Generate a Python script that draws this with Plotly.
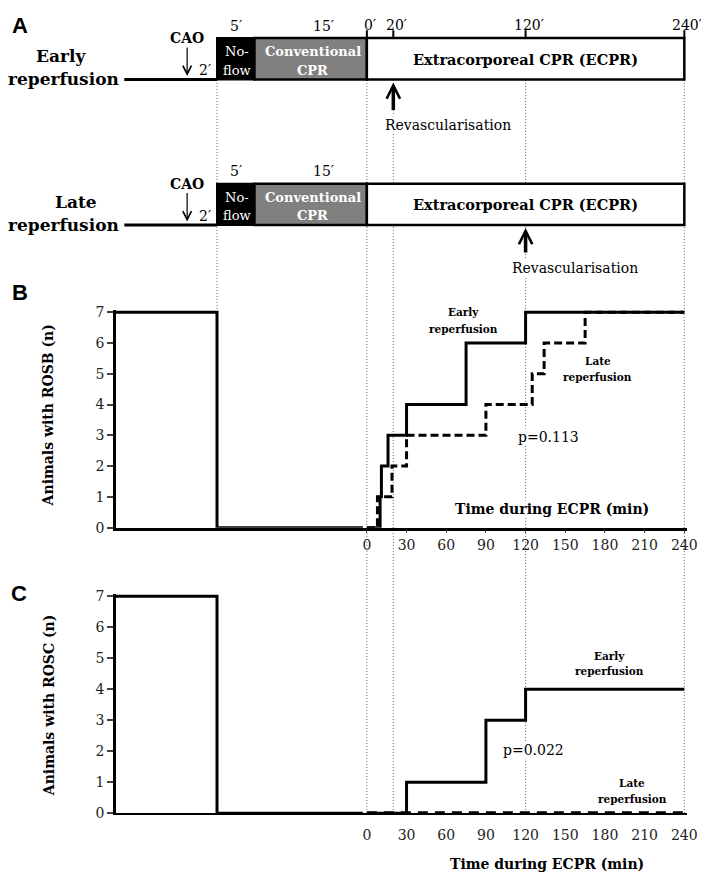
import plotly.graph_objects as go

W, H = 709, 875

# ---------------- data ----------------
ECPR_TICKS = [0, 30, 60, 90, 120, 150, 180, 210, 240]
Y_TICKS = [0, 1, 2, 3, 4, 5, 6, 7]

# pre-ECPR phase (minutes relative to start of ECPR)
PRE_TIME = [-34, -20, 0]          # baseline, start of no-flow, start of ECPR
PRE_COUNT = [7, 0, 0]             # animals (n)

# Panel B - animals with ROSB during ECPR
ROSB_EARLY_TIME = [0, 10, 11, 16, 30, 75, 120, 240]
ROSB_EARLY_N = [0, 1, 2, 3, 4, 6, 7, 7]
ROSB_LATE_TIME = [0, 8, 19, 30, 90, 125, 134, 165, 240]
ROSB_LATE_N = [0, 1, 2, 3, 4, 5, 6, 7, 7]

# Panel C - animals with ROSC during ECPR
ROSC_EARLY_TIME = [0, 30, 90, 120, 240]
ROSC_EARLY_N = [0, 1, 3, 4, 4]
ROSC_LATE_TIME = [0, 240]
ROSC_LATE_N = [0, 0]

P_VALUES = ["p=0.113", "p=0.022"]

# Panel A timeline (minutes)
NOFLOW = [-20, -15]
CONV_CPR = [-15, 0]
ECPR = [0, 240]
ECPR_MARKS = [0, 20, 120, 240]
ECPR_MARK_LABELS = ["0′", "20′", "120′", "240′"]
ROWS = ["Early", "Late"]
REVASC_TIME = [20, 120]

# ---------------- geometry (page pixels) ----------------
FONT = "DejaVu Serif"
AX_LEFT = 109.5
SPLIT = 360.0
RIGHT = 689.0
ECPR0 = 364.0
K_ECPR = 322 / 240
K_PRE = 7.6


def e_px(t):
    return ECPR0 + t * K_ECPR


def p_px(t):
    return ECPR0 + t * K_PRE


def fx(px):
    return px / W


def fy(py):
    return 1 - py / H


x_ecpr_range = [(SPLIT - ECPR0) / K_ECPR, (RIGHT - ECPR0) / K_ECPR]
x_pre_range = [(AX_LEFT - ECPR0) / K_PRE, (SPLIT - ECPR0) / K_PRE]
YTOP = 7.08
B_Y0, B_Y7 = 522.0, 303.0
C_Y0, C_Y7 = 812.3, 591.7
b_top = B_Y7 - (YTOP - 7) * (B_Y0 - B_Y7) / 7
c_top = C_Y7 - (YTOP - 7) * (C_Y0 - C_Y7) / 7


def step(x, y, xa, ya, dash="solid", width=3):
    return go.Scatter(x=x, y=y, xaxis=xa, yaxis=ya, mode="lines",
                      line=dict(color="black", width=width, dash=dash, shape="hv"),
                      hoverinfo="skip", showlegend=False)


fig = go.Figure()
# Panel B
fig.add_trace(step(PRE_TIME, PRE_COUNT, "x2", "y"))
fig.add_trace(step(ROSB_EARLY_TIME, ROSB_EARLY_N, "x", "y"))
fig.add_trace(step(ROSB_LATE_TIME, ROSB_LATE_N, "x", "y", dash="8px,4px"))
# Panel C
fig.add_trace(step(PRE_TIME, PRE_COUNT, "x4", "y2"))
fig.add_trace(step(ROSC_EARLY_TIME, ROSC_EARLY_N, "x3", "y2"))
fig.add_trace(step(ROSC_LATE_TIME, ROSC_LATE_N, "x3", "y2", dash="10px,7px", width=4))

tickfont = dict(family=FONT, size=14, color="#222")
common_x = dict(showgrid=False, zeroline=False, showline=True, linecolor="black",
                linewidth=2.5, fixedrange=True)
common_y = dict(showgrid=False, zeroline=False, showline=True, linecolor="black",
                linewidth=2.5, ticks="outside", ticklen=6, tickwidth=2,
                tickvals=Y_TICKS, tickfont=tickfont, range=[0, YTOP])

fig.update_layout(
    width=W, height=H, margin=dict(l=0, r=0, t=0, b=0),
    paper_bgcolor="white", plot_bgcolor="rgba(0,0,0,0)", showlegend=False,
    xaxis=dict(common_x, domain=[fx(SPLIT), fx(RIGHT)], range=x_ecpr_range, anchor="y",
               ticks="outside", ticklen=3, tickwidth=1, tickvals=ECPR_TICKS, tickfont=tickfont),
    xaxis2=dict(common_x, domain=[fx(AX_LEFT), fx(SPLIT)], range=x_pre_range, anchor="y",
                showticklabels=False, ticks=""),
    yaxis=dict(common_y, domain=[fy(B_Y0), fy(b_top)], anchor="x2"),
    xaxis3=dict(common_x, domain=[fx(SPLIT), fx(RIGHT)], range=x_ecpr_range, anchor="y2",
                ticks="", tickvals=ECPR_TICKS, tickfont=tickfont, ticklabelstandoff=8, linewidth=1.5),
    xaxis4=dict(common_x, domain=[fx(AX_LEFT), fx(SPLIT)], range=x_pre_range, anchor="y2",
                showticklabels=False, ticks="", linewidth=1.5),
    yaxis2=dict(common_y, domain=[fy(C_Y0), fy(c_top)], anchor="x4"),
)

shapes = []
DOT = dict(color="#666", width=1, dash="1px,2px")
# dotted guide lines
for t in ECPR_MARKS:
    shapes.append(dict(type="line", xref="paper", yref="paper", x0=fx(e_px(t)), x1=fx(e_px(t)),
                       y0=fy(67), y1=fy(C_Y0), layer="below", line=DOT))
shapes.append(dict(type="line", xref="paper", yref="paper", x0=fx(p_px(NOFLOW[0])), x1=fx(p_px(NOFLOW[0])),
                   y0=fy(67), y1=fy(B_Y7), layer="below", line=DOT))

ROW_TOPS = [24.5, 172.5]
BOX_H = 42
for top in ROW_TOPS:
    bot = top + BOX_H
    shapes.append(dict(type="line", xref="paper", yref="paper", x0=fx(118), x1=fx(p_px(NOFLOW[0])),
                       y0=fy(bot), y1=fy(bot), line=dict(color="black", width=3)))
    shapes.append(dict(type="rect", xref="paper", yref="paper",
                       x0=fx(p_px(NOFLOW[0])), x1=fx(p_px(NOFLOW[1])), y0=fy(bot), y1=fy(top),
                       fillcolor="black", line=dict(color="black", width=2)))
    shapes.append(dict(type="rect", xref="paper", yref="paper",
                       x0=fx(p_px(CONV_CPR[0])), x1=fx(p_px(CONV_CPR[1])), y0=fy(bot), y1=fy(top),
                       fillcolor="#808080", line=dict(color="black", width=2.5)))
    shapes.append(dict(type="rect", xref="paper", yref="paper",
                       x0=fx(e_px(ECPR[0])), x1=fx(e_px(ECPR[1])), y0=fy(bot), y1=fy(top),
                       fillcolor="white", line=dict(color="black", width=2.5)))
# tick marks above the early ECPR box
for t in ECPR_MARKS:
    shapes.append(dict(type="line", xref="paper", yref="paper", x0=fx(e_px(t)), x1=fx(e_px(t)),
                       y0=fy(ROW_TOPS[0]), y1=fy(ROW_TOPS[0] - 8), line=dict(color="black", width=2)))
fig.update_layout(shapes=shapes)

ann = []


def txt(x, y, s, size=14, bold=False, color="black", family=FONT, bg=None, angle=0, xanchor="center"):
    d = dict(xref="paper", yref="paper", x=fx(x), y=fy(y), text=("<b>%s</b>" % s) if bold else s,
             showarrow=False, xanchor=xanchor, yanchor="middle", textangle=angle,
             font=dict(family=family, size=size, color=color))
    if bg:
        d["bgcolor"] = bg
        d["borderpad"] = 0
    ann.append(d)


# panel letters
txt(12, 12, "A", 22, True, family="Liberation Sans")
txt(12, 283, "B", 22, True, family="Liberation Sans")
txt(11, 589, "C", 22, True, family="Liberation Sans")

# ECPR time labels (early row)
for t, lab in zip(ECPR_MARKS, ECPR_MARK_LABELS):
    txt(e_px(t) + 3, 11, lab, 14)

row_label_x = {"Early": 54, "Late": 69}
for i, (top, row) in enumerate(zip(ROW_TOPS, ROWS)):
    dy = top - ROW_TOPS[0]
    txt(row_label_x[row], 43 + dy, row, 17, True)
    txt(56, 66 + dy, "reperfusion", 17, True)
    txt((p_px(NOFLOW[0]) + p_px(NOFLOW[1])) / 2, 12 + dy, "5′", 14)
    txt(320, 12 + dy, "15′", 14)
    txt((p_px(NOFLOW[0]) + p_px(NOFLOW[1])) / 2 + 1, 38 + dy, "No-", 13, color="white")
    txt((p_px(NOFLOW[0]) + p_px(NOFLOW[1])) / 2 + 1, 57 + dy, "flow", 13, color="white")
    txt(309, 38 + dy, "Conventional", 13, True, color="white")
    txt(309, 57 + dy, "CPR", 13, True, color="white")
    txt(e_px(120), 46 + dy, "Extracorporeal CPR (ECPR)", 14.5, True)
    txt(200, 57 + dy, "2′", 14)
    # CAO arrow
    ann.append(dict(xref="paper", yref="paper", x=fx(181.7), y=fy(63 + dy), ax=0, ay=-38,
                    text="<b>CAO</b>", showarrow=True, arrowhead=5, arrowsize=1.4, arrowwidth=1.2,
                    arrowcolor="black", font=dict(family=FONT, size=14, color="black")))
    # revascularisation arrow
    rx = e_px(REVASC_TIME[i])
    ay = 29 if i == 0 else 26
    ann.append(dict(xref="paper", yref="paper", x=fx(rx), y=fy(top + BOX_H + 3), ax=0, ay=ay,
                    text="", showarrow=True, arrowhead=5, arrowsize=0.75, arrowwidth=3.5,
                    arrowcolor="black"))
    txt(rx + (55 if i == 0 else 50), top + BOX_H + (46 if i == 0 else 44), "Revascularisation", 14, bg="white")

# axis titles
txt(41, 407.5, "Animals with ROSB (n)", 14, True, angle=-90)
txt(41, 702, "Animals with ROSC (n)", 14, True, angle=-90)

# panel B labels
txt(462, 303, "Early", 10.5, True)
txt(462, 320, "reperfusion", 10.5, True)
txt(598, 353, "Late", 10.5, True)
txt(598, 369, "reperfusion", 10.5, True)
txt(548, 430, P_VALUES[0], 14, bg="white")
txt(552, 503, "Time during ECPR (min)", 14, True, bg="white")

# panel C labels
txt(610, 652, "Early", 10.5, True)
txt(610, 668, "reperfusion", 10.5, True)
txt(533, 748, P_VALUES[1], 14, bg="white")
txt(633, 782, "Late", 10.5, True)
txt(633, 798, "reperfusion", 10.5, True)
txt(547, 864, "Time during ECPR (min)", 14, True)

fig.update_layout(annotations=ann)
fig.write_html("out.html")
